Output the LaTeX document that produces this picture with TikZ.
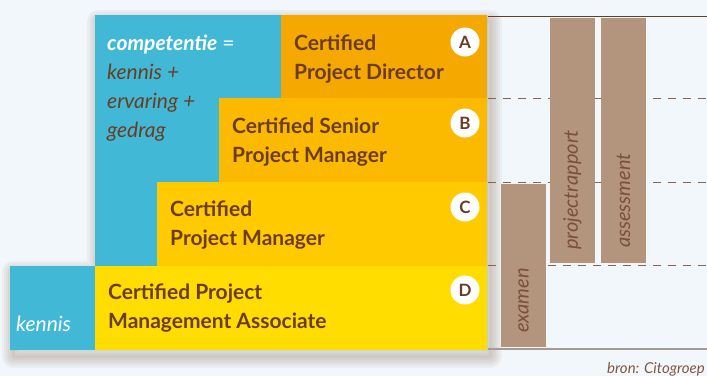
\documentclass[tikz,border=0pt]{standalone}
\usepackage{fontspec}
\setmainfont{Lato}
\definecolor{bgcol}{HTML}{F1F7FA}
\definecolor{compblue}{HTML}{41B9D6}
\definecolor{lvla}{HTML}{F5A800}
\definecolor{lvlb}{HTML}{FBBA00}
\definecolor{lvlc}{HTML}{FFCA00}
\definecolor{lvld}{HTML}{FFDD00}
\definecolor{txtbrown}{HTML}{6B3C22}
\definecolor{barbrown}{HTML}{B3957D}
\definecolor{linegray}{HTML}{A89A92}

\begin{document}
\begin{tikzpicture}[x=1pt, y=-1pt,
    % base anchor = baseline of the last line
    title/.style={anchor=base west, align=left, inner sep=0pt, text=txtbrown,
      font=\fontsize{21}{29}\selectfont\bfseries},
    note/.style={anchor=base west, align=left, inner sep=0pt, text=txtbrown,
      font=\fontsize{21}{29}\selectfont\itshape},
    letter/.style={circle, fill=white, minimum size=29pt, inner sep=0pt, text=txtbrown,
      font=\fontsize{17}{17}\selectfont\bfseries},
    bar/.style={fill=barbrown},
    barlabel/.style={rotate=90, anchor=west, inner sep=0pt, text=txtbrown!90,
      font=\fontsize{20}{20}\selectfont\itshape}]
  \fill[bgcol] (0,0) rectangle (707,376);
  \useasboundingbox (0,0) rectangle (707,376);

  % soft shadow under the staircase
  \begin{scope}[shift={(3,6)}]
    \foreach \w in {3,7,11,15,19,23}
      \draw[txtbrown, opacity=0.045, line width=\w pt, line join=round]
        (10,266) -- (95,266) -- (95,15) -- (487,15) -- (487,350) -- (10,350) -- cycle;
  \end{scope}

  % staircase
  \fill[compblue] (10,266) -- (95,266) -- (95,15) -- (487,15) -- (487,350) -- (10,350) -- cycle;
  \fill[lvla] (281,15) rectangle (487,98);
  \fill[lvlb] (219,98) rectangle (487,182);
  \fill[lvlc] (157,182) rectangle (487,266);
  \fill[lvld] (95,266) rectangle (487,350);

  \node[title] (pd) at (294,79) {Certified\\Project Director};
  \node[title] (spm) at (232,162) {Certified Senior\\Project Manager};
  \node[title] (pm) at (170,245) {Certified\\Project Manager};
  \node[title] (pma) at (108,328) {Certified Project\\Management Associate};

  \node[letter] (la) at (465,42) {A};
  \node[letter] (lb) at (465,123) {B};
  \node[letter] (lc) at (465,207) {C};
  \node[letter] (ld) at (465,290) {D};

  \node[note] (comp) at (107,137)
    {\textcolor{white}{\bfseries competentie} \textcolor{white}{\upshape =}\\kennis +\\ervaring +\\gedrag};
  \node[note, text=white] (kennis) at (16,331) {kennis};

  % right panel
  \draw[txtbrown, line width=1pt] (488,16) -- (707,16);
  \draw[linegray, line width=1.5pt] (488,349) -- (707,349);
  \foreach \y in {98,182,265}
    \draw[txtbrown!80, line width=0.9pt, dash pattern=on 8pt off 7pt] (488,\y) -- (707,\y);

  \fill[bar] (501,184) rectangle (546,347);
  \fill[bar] (550,18) rectangle (595,263);
  \fill[bar] (601,18) rectangle (646,263);
  \node[barlabel] (ex) at (523.5,333) {examen};
  \node[barlabel] (pr) at (572.5,250) {projectrapport};
  \node[barlabel] (as) at (623.5,248) {assessment};

  \node[anchor=base east, inner sep=0pt, text=txtbrown!85,
    font=\fontsize{15}{15}\selectfont\itshape] (bron) at (705,373) {bron: Citogroep};
\end{tikzpicture}
\end{document}
